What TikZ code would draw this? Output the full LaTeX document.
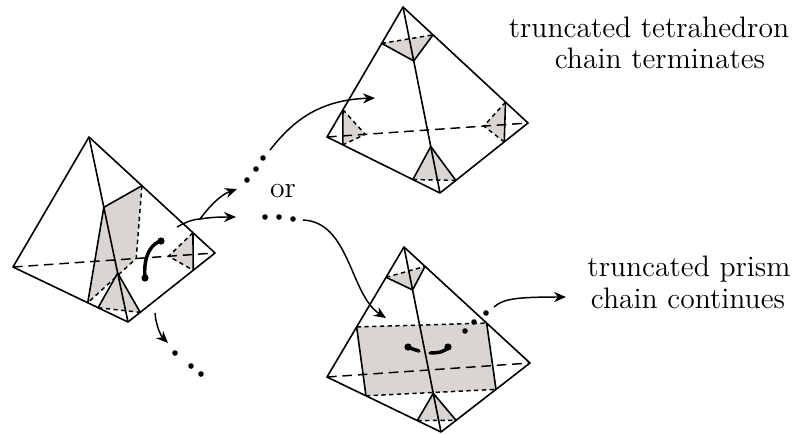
\documentclass[tikz,border=0pt]{standalone}
\usepackage{tikz}
\usetikzlibrary{calc,arrows.meta}
\definecolor{faceGray}{RGB}{216,213,210}

\begin{document}
\begin{tikzpicture}[x=0.375pt,y=0.375pt,yscale=-1,xscale=1,
  font=\fontsize{11.1}{12}\selectfont,
  edge/.style={line width=0.6pt, line join=round},
  hidden/.style={line width=0.55pt, dash pattern=on 3.6pt off 2.2pt},
  cut/.style={line width=0.55pt, dash pattern=on 1.6pt off 1.3pt},
  face/.style={fill=faceGray, draw=none},
  chain/.style={line width=1.3pt, line cap=round},
  bead/.style={circle, fill=black, inner sep=0pt, minimum size=2.7pt},
  dot/.style={circle, fill=black, inner sep=0pt, minimum size=2.1pt},
  flow/.style={line width=0.55pt, -{Stealth[length=4.5pt,width=3.8pt]}},
  lbl/.style={inner sep=0pt, anchor=base}]
%set diagram frame 798 x 433
\useasboundingbox (0,0) rectangle (798,433);

%Left tetrahedron
\coordinate (A1) at (89,137);
\coordinate (L1) at (13,267);
\coordinate (R1) at (215,253);
\coordinate (B1) at (128,322);
\coordinate (q1) at ($(A1)!0.38!(B1)$);
\coordinate (q2) at ($(A1)!0.42!(R1)$);
\coordinate (q3) at ($(L1)!0.61!(R1)$);
\coordinate (q4) at ($(L1)!0.65!(B1)$);
\coordinate (s1) at ($(B1)!0.265!(A1)$);
\coordinate (s2) at ($(B1)!0.26!(L1)$);
\coordinate (s3) at ($(B1)!0.14!(R1)$);
\coordinate (r1) at ($(R1)!0.175!(A1)$);
\coordinate (r2) at ($(R1)!0.25!(B1)$);
\coordinate (r3) at ($(R1)!0.23!(L1)$);
\fill[face] (q1) -- (q2) -- (q3) -- (q4) -- cycle;
\fill[face] (s1) -- (s2) -- (s3) -- cycle;
\fill[face] (r1) -- (r2) -- (r3) -- cycle;
\draw[hidden] (L1) -- (R1);
\draw[cut] (q2) -- (q3) -- (q4);
\draw[cut] (s2) -- (s3);
\draw[cut] (r1) -- (r3) -- (r2);
\draw[edge] (A1) -- (L1) -- (B1) -- (R1) -- cycle;
\draw[edge] (A1) -- (B1);
\draw[edge] (q4) -- (q1) -- (q2);
\draw[edge] (s2) -- (s1) -- (s3);
\draw[edge] (r1) -- (r2);
% chain piece
\node[bead] (c1) at (161,241) {};
\node[bead] (c2) at (145,278) {};
\draw[chain] (c1.center) .. controls (152,243) and (143,255) .. (c2.center);

%Top tetrahedron
\coordinate (A2) at (403,7);
\coordinate (L2) at (327,137);
\coordinate (R2) at (528,123);
\coordinate (B2) at (440,193);
\coordinate (ta) at ($(A2)!0.28!(L2)$);
\coordinate (tb) at ($(A2)!0.24!(R2)$);
\coordinate (tc) at ($(A2)!0.29!(B2)$);
\coordinate (la) at ($(L2)!0.21!(A2)$);
\coordinate (lb) at ($(L2)!0.14!(B2)$);
\coordinate (lc) at ($(L2)!0.19!(R2)$);
\coordinate (ra) at ($(R2)!0.18!(A2)$);
\coordinate (rb) at ($(R2)!0.27!(B2)$);
\coordinate (rc) at ($(R2)!0.22!(L2)$);
\coordinate (ba) at ($(B2)!0.25!(A2)$);
\coordinate (bl) at ($(B2)!0.24!(L2)$);
\coordinate (br) at ($(B2)!0.18!(R2)$);
\fill[face] (ta) -- (tb) -- (tc) -- cycle;
\fill[face] (la) -- (lb) -- (lc) -- cycle;
\fill[face] (ra) -- (rb) -- (rc) -- cycle;
\fill[face] (ba) -- (bl) -- (br) -- cycle;
\draw[hidden] (L2) -- (R2);
\draw[cut] (ta) -- (tb);
\draw[cut] (la) -- (lc) -- (lb);
\draw[cut] (ra) -- (rc) -- (rb);
\draw[cut] (bl) -- (br);
\draw[edge] (A2) -- (L2) -- (B2) -- (R2) -- cycle;
\draw[edge] (A2) -- (B2);
\draw[edge] (ta) -- (tc) -- (tb);
\draw[edge] (la) -- (lb);
\draw[edge] (ra) -- (rb);
\draw[edge] (bl) -- (ba) -- (br);

%Bottom tetrahedron
\coordinate (A3) at (404,247);
\coordinate (L3) at (327,377);
\coordinate (R3) at (530,363);
\coordinate (B3) at (441,432);
\coordinate (ua) at ($(A3)!0.233!(L3)$);
\coordinate (ub) at ($(A3)!0.167!(R3)$);
\coordinate (uc) at ($(A3)!0.232!(B3)$);
\coordinate (pa) at ($(A3)!0.615!(L3)$);
\coordinate (pb) at ($(A3)!0.656!(R3)$);
\coordinate (pc) at ($(B3)!0.618!(R3)$);
\coordinate (pd) at ($(B3)!0.658!(L3)$);
\coordinate (va) at ($(B3)!0.209!(A3)$);
\coordinate (vb) at ($(B3)!0.208!(L3)$);
\coordinate (vc) at ($(B3)!0.169!(R3)$);
\fill[face] (pa) -- (pb) -- (pc) -- (pd) -- cycle;
\fill[face] (ua) -- (ub) -- (uc) -- cycle;
\fill[face] (va) -- (vb) -- (vc) -- cycle;
\draw[hidden] (L3) -- (R3);
\draw[cut] (pa) -- (pb);
\draw[cut] (pd) -- (pc);
\draw[cut] (ua) -- (ub);
\draw[cut] (vb) -- (vc);
\draw[edge] (A3) -- (L3) -- (B3) -- (R3) -- cycle;
\draw[edge] (A3) -- (B3);
\draw[edge] (pa) -- (pd);
\draw[edge] (pb) -- (pc);
\draw[edge] (ua) -- (uc) -- (ub);
\draw[edge] (vb) -- (va) -- (vc);
% chain pieces
\node[bead] (c3) at (408,347) {};
\coordinate (c4) at (419,351);
\coordinate (c5) at (430,353);
\node[bead] (c6) at (448,347) {};
\draw[chain] (c3.center) .. controls (412,349) and (416,350) .. (c4);
\draw[chain] (c5) .. controls (440,353) and (446,351) .. (c6.center);
\node[dot] (e1) at (465,331) {};
\node[dot] (e2) at (474,322) {};
\node[dot] (e3) at (486,313) {};

% Ellipsis dots
\node[dot] (f1) at (247,180) {};
\node[dot] (f2) at (256,169) {};
\node[dot] (f3) at (263,158) {};
\node[dot] (g1) at (265,217) {};
\node[dot] (g2) at (279,217) {};
\node[dot] (g3) at (293,219) {};
\node[dot] (h1) at (175,353) {};
\node[dot] (h2) at (191,366) {};
\node[dot] (h3) at (201,374) {};

% Text Node
\node[lbl] (or) at (283,197) {or};
\node[lbl] (term1) at (649,37) {truncated tetrahedron};
\node[lbl] (term2) at (660,68) {chain terminates};
\node[lbl] (cont1) at (689,276) {truncated prism};
\node[lbl] (cont2) at (688,308) {chain continues};

% Connection
\coordinate (o1) at (177,227);
\coordinate (j1) at (200,219);
\coordinate (t1) at (236,217);
\coordinate (t2) at (237,189);
\draw[line width=0.55pt] (o1) .. controls (186,222) and (194,219) .. (j1);
\draw[flow] (j1) .. controls (212,217) and (222,217) .. (t1);
\draw[flow] (j1) .. controls (208,208) and (220,195) .. (t2);
% Connection
\coordinate (o2) at (270,150);
\coordinate (t3) at (375,98);
\draw[flow] (o2) .. controls (290,125) and (315,100) .. (t3);
% Connection
\coordinate (o3) at (303,220);
\coordinate (t4) at (386,318);
\draw[flow] (o3) .. controls (350,222) and (350,295) .. (t4);
% Connection
\coordinate (o4) at (155,313);
\coordinate (t5) at (168,343);
\draw[flow] (o4) .. controls (156,326) and (161,336) .. (t5);
% Connection
\coordinate (o5) at (494,307);
\coordinate (t6) at (566,297);
\draw[flow] (o5) .. controls (503,299) and (515,297) .. (t6);

\end{tikzpicture}
\end{document}
